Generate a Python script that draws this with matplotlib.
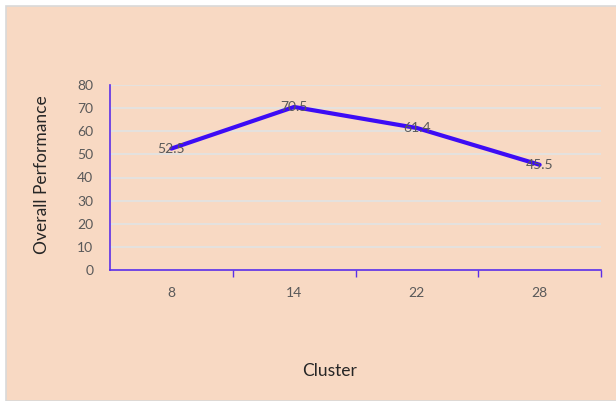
import matplotlib.pyplot as plt
import matplotlib.patches as ppatches
from matplotlib.ticker import FixedLocator, NullFormatter

clusters = ["8", "14", "22", "28"]
performance = [52.5, 70.5, 61.4, 45.5]
y_ticks = [0, 10, 20, 30, 40, 50, 60, 70, 80]

W, H = 616, 401
bg = "#F8D9C3"
axis_color = "#5B2EE8"
line_color = "#3D0CF5"
text_color = "#595959"

plt.rcParams['font.family'] = ['Lato', 'DejaVu Sans']

fig = plt.figure(figsize=(W / 100, H / 100), dpi=100)
fig.patch.set_facecolor("white")

# outer chart area with thin grey border on top/left
frame = ppatches.Rectangle((6 / W, 0), 1, 1 - 6 / H, transform=fig.transFigure,
                           facecolor=bg, edgecolor="#D9D9D9", linewidth=1.2, zorder=-10)
fig.patches.append(frame)

left, right, top, bottom = 110, 601, 85, 270
ax = fig.add_axes([left / W, 1 - bottom / H, (right - left) / W, (bottom - top) / H])
ax.set_facecolor("none")

x = list(range(len(clusters)))
ax.plot(x, performance, color=line_color, linewidth=3, solid_capstyle="round", zorder=3)
for xi, v in zip(x, performance):
    ax.text(xi, v, f"{v}", ha="center", va="center", fontsize=10, color=text_color, zorder=4)

ax.set_xlim(-0.5, len(clusters) - 0.5)
ax.set_ylim(0, 80)
ax.set_yticks(y_ticks)
ax.yaxis.grid(True, color="#E2E2E2", linewidth=1.3)
ax.set_axisbelow(True)

ax.set_xticks(x)
ax.set_xticklabels(clusters)
ax.xaxis.set_minor_locator(FixedLocator([i + 0.5 for i in x]))
ax.xaxis.set_minor_formatter(NullFormatter())
ax.tick_params(axis="x", which="major", length=0, pad=12, labelsize=10, labelcolor=text_color)
ax.tick_params(axis="x", which="minor", length=5, color=axis_color, direction="out", width=1)
ax.tick_params(axis="y", length=0, pad=12, labelsize=10, labelcolor=text_color)

for side in ["top", "right"]:
    ax.spines[side].set_visible(False)
for side in ["left", "bottom"]:
    ax.spines[side].set_color(axis_color)
    ax.spines[side].set_linewidth(1.2)

fig.text(330 / W, 1 - 371 / H, "Cluster", ha="center", va="center", fontsize=12.5, color="#262626")
fig.text(42 / W, 1 - 175 / H, "Overall Performance", ha="center", va="center",
         rotation=90, fontsize=12.5, color="#262626")

fig.savefig("out.png", dpi=100, facecolor=fig.get_facecolor())
